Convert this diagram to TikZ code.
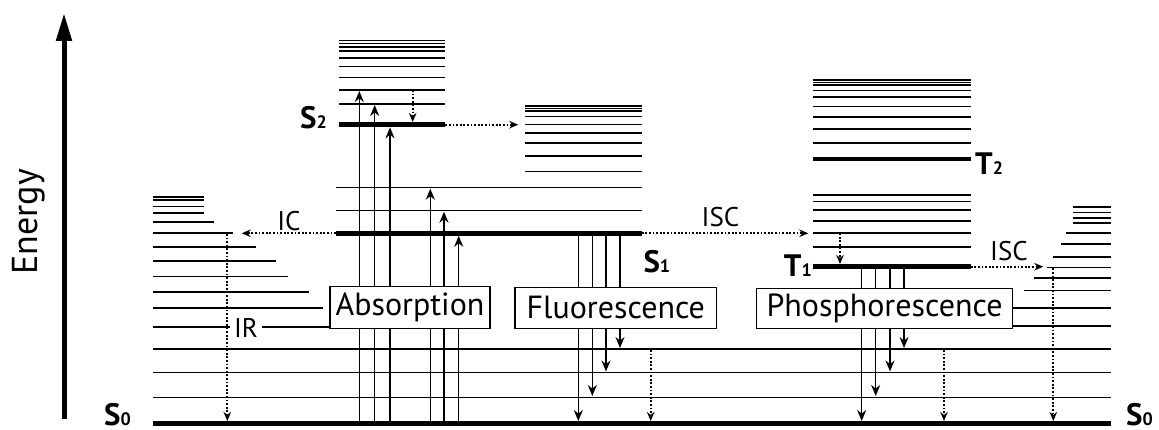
\documentclass[tikz,border=0pt]{standalone}
\usepackage{fontspec}
\setmainfont{PT Sans}
\usetikzlibrary{arrows.meta}
\tikzset{
  lev/.style={line width=1.6pt},
  thick level/.style={line width=4.6pt},
  emit/.style={line width=1.5pt,-{Stealth[length=11pt,width=9pt]}},
  dotarrow/.style={line width=1.8pt,dash pattern=on 1.8pt off 1.8pt,-{Stealth[length=9pt,width=7.5pt]}},
  procbox/.style={draw,line width=1.3pt,fill=white,inner sep=0pt,font=\fontsize{32}{32}\selectfont},
  lab/.style={inner sep=0pt,font=\fontsize{27}{27}\selectfont},
  state/.style={inner sep=0pt,font=\bfseries\fontsize{31}{31}\selectfont},
}
\newcommand{\sub}[1]{{\fontsize{18}{18}\selectfont #1}}
\begin{document}
\begin{tikzpicture}[x=1pt,y=-1pt]
\useasboundingbox (0,0) rectangle (1159,430);
% energy axis
\coordinate (eb) at (64,419);
\coordinate (et) at (64,13);
\draw[line width=5pt,-{Triangle[length=28pt,width=15pt]}] (eb) -- (et);
\node[rotate=90,inner sep=0pt,font=\fontsize{36}{36}\selectfont] (energy) at (29,222) {Energy};

% S0 ladder, left
\foreach \y in {197.3,200.3,206.7,213.3} \draw[lev] (153.3,\y) -- (204.3,\y);
\draw[lev] (153.3,222.3) -- (214,222.3);
\draw[lev] (153.3,233.3) -- (232.7,233.3);
\draw[lev] (153.3,247.3) -- (255.7,247.3);
\draw[lev] (153.3,261.3) -- (275.7,261.3);
\draw[lev] (153.3,276.7) -- (287.7,276.7);
\draw[lev] (153.3,292.3) -- (309,292.3);
\draw[lev] (153.3,308.3) -- (322.7,308.3);
\draw[lev] (153.3,326.7) -- (332,326.7);
% S0 ladder, right
\foreach \y in {207.3,212.7,218,223.3} \draw[lev] (1073.3,\y) -- (1110.7,\y);
\draw[lev] (1065.7,233.3) -- (1110.7,233.3);
\draw[lev] (1061,244.3) -- (1110.7,244.3);
\draw[lev] (1053.3,257.3) -- (1110.7,257.3);
\draw[lev] (1046.7,267.7) -- (1110.7,267.7);
\draw[lev] (1034.3,278.3) -- (1110.7,278.3);
\draw[lev] (1024,290.7) -- (1110.7,290.7);
\draw[lev] (1008,308) -- (1110.7,308);
\draw[lev] (1008,326) -- (1110.7,326);
% full width S0 levels
\foreach \y in {349,372.5,397.3} \draw[lev] (153.3,\y) -- (1110.7,\y);
\draw[thick level] (153.3,423.3) -- (1110.7,423.3);

% S2 group
\foreach \y in {40.7,43.7,47,51,58.3,66.7,77.7,90,104} \draw[lev] (339.3,\y) -- (445.3,\y);
\draw[thick level] (339.3,124.7) -- (445.3,124.7);
% upper vibrational levels of S1
\foreach \y in {106,108.7,111.3,116.7,124.7,133,143.3,156,171.7} \draw[lev] (525,\y) -- (641.7,\y);
% S1 group
\foreach \y in {187.7,210.7} \draw[lev] (336,\y) -- (641.7,\y);
\draw[thick level] (336,233.3) -- (641.7,233.3);
% T2 group
\foreach \y in {80,82.7,85.3,90.7,97.3,106.7,117.3,129.3,143.3} \draw[lev] (813.3,\y) -- (970.7,\y);
\draw[thick level] (813.3,159) -- (970.7,159);
% T1 group
\foreach \y in {195,201.7,210,221,233.3,247.3} \draw[lev] (813.3,\y) -- (970.7,\y);
\draw[thick level] (813.3,266.7) -- (970.7,266.7);

% absorption arrows
\foreach \n/\x/\ya/\yb in {a1/359.3/423.3/91,a2/374.7/423.3/105,a3/390/423.3/127.3,a4/430.3/423.3/188.7,a5/444/423.3/211.7,a6/458.7/423.3/235.8}{
  \coordinate (\n-s) at (\x,\ya);
  \coordinate (\n-e) at (\x,\yb);
  \draw[emit] (\n-s) -- (\n-e);
}
% fluorescence and phosphorescence arrows
\foreach \n/\x/\ya/\yb in {f1/578.3/233.3/421,f2/592.3/233.3/396,f3/606/233.3/371.5,f4/620/233.3/348,
                          p1/861.7/266.7/421,p2/875.7/266.7/396,p3/890/266.7/371.5,p4/904/266.7/348}{
  \coordinate (\n-s) at (\x,\ya);
  \coordinate (\n-e) at (\x,\yb);
  \draw[emit] (\n-s) -- (\n-e);
}

% IR label on the line
\node[lab,fill=white,inner xsep=4pt,inner ysep=3pt] (ir) at (246,327.5) {IR};

% dotted transitions
\foreach \n/\xa/\ya/\xb/\yb in {
  v2/412.7/90/412.7/122,
  ic2/445.3/124.7/518.3/124.7,
  ic1/336/233.3/241.7/233.3,
  isc1/641.7/233.3/808.3/233.3,
  vt1/840/233.3/840/264,
  isc2/970.7/266.7/1043.3/266.7,
  ir1/227.3/234/227.3/421,
  nf/650.7/350/650.7/421,
  np/944/350/944/421,
  nt/1053.3/268.5/1053.3/421}{
  \coordinate (\n-s) at (\xa,\ya);
  \coordinate (\n-e) at (\xb,\yb);
  \draw[dotarrow] (\n-s) -- (\n-e);
}

% process boxes
\node[procbox,minimum width=160pt,minimum height=41.6pt] (abs) at (410,307.5) {Absorption};
\node[procbox,minimum width=201.7pt,minimum height=41pt] (flu) at (615.8,307.8) {Fluorescence};
\node[procbox,minimum width=255.6pt,minimum height=40pt] (pho) at (884.5,308.3) {Phosphorescence};

% labels
\node[lab] (ic) at (289,221.5) {IC};
\node[lab] (isca) at (720.5,217) {ISC};
\node[lab] (iscb) at (1009,251) {ISC};

\node[state,anchor=base west] (s0l) at (104,425) {S\sub{0}};
\node[state,anchor=base west] (s0r) at (1126,425) {S\sub{0}};
\node[state,anchor=base east] (s2) at (327,128.5) {S\sub{2}};
\node[state,anchor=base west] (s1) at (643.3,272.5) {S\sub{1}};
\node[state,anchor=base east] (t1) at (812,276.5) {T\sub{1}};
\node[state,anchor=base west] (t2) at (975,175) {T\sub{2}};
\end{tikzpicture}
\end{document}
